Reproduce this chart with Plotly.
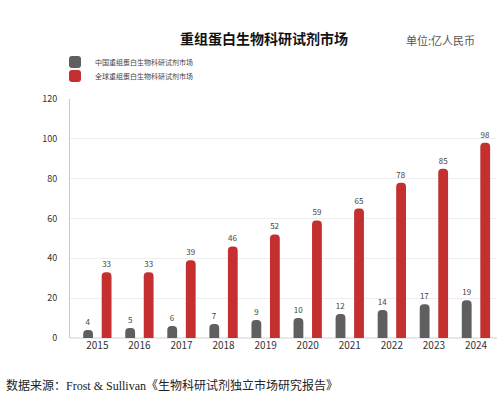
import plotly.graph_objects as go

years = ["2015", "2016", "2017", "2018", "2019", "2020", "2021", "2022", "2023", "2024"]
china = [4, 5, 6, 7, 9, 10, 12, 14, 17, 19]
world = [33, 33, 39, 46, 52, 59, 65, 78, 85, 98]
name_china = "中国重组蛋白生物科研试剂市场"
name_world = "全球重组蛋白生物科研试剂市场"

FONT = "Noto Sans CJK SC, Noto Sans, sans-serif"

W, H = 504, 402
l, r, t, b = 70, 7, 99, 64
pw, ph = W - l - r, H - t - b


def px2paper(px, py):
    return (px - l) / pw, (H - b - py) / ph


fig = go.Figure()
fig.add_trace(go.Bar(x=years, y=china, name=name_china, legend="legend",
                     marker=dict(color="#5f5f5f", line=dict(width=0)),
                     text=china, textposition="outside", cliponaxis=False,
                     textfont=dict(size=8, color="#444444", family=FONT)))
fig.add_trace(go.Bar(x=years, y=world, name=name_world, legend="legend2",
                     marker=dict(color="#c3302f", line=dict(width=0)),
                     text=world, textposition="outside", cliponaxis=False,
                     textfont=dict(size=8, color="#444444", family=FONT)))

lx1, ly1 = px2paper(55, 62)
lx2, ly2 = px2paper(55, 76)
legend_common = dict(xref="paper", yref="paper", xanchor="left", yanchor="middle",
                     font=dict(size=7, color="#444444", family=FONT), itemwidth=30,
                     bgcolor="rgba(0,0,0,0)", borderwidth=0)

fig.update_layout(
    width=W, height=H,
    margin=dict(l=l, r=r, t=t, b=b),
    paper_bgcolor="white", plot_bgcolor="white",
    barmode="group", bargap=0.12, bargroupgap=0.47,
    barcornerradius=5,
    font=dict(family=FONT, color="#333333"),
    showlegend=True,
    legend=dict(x=lx1, y=ly1, **legend_common),
    legend2=dict(x=lx2, y=ly2, **legend_common),
    xaxis=dict(type="category", range=[-0.65, 9.5], showgrid=False, showline=False, ticks="",
               tickfont=dict(size=10, color="#333333"), zeroline=False),
    yaxis=dict(range=[0, 120], dtick=20, showgrid=True, gridcolor="#eeeeee", gridwidth=1,
               showline=True, linecolor="#c8c8c8", linewidth=1, ticks="", ticklabelstandoff=10,
               tickfont=dict(size=9, color="#333333"), zeroline=True, zerolinecolor="#e8e8e8"),
)

anns = [
    dict(text="<b>重组蛋白生物科研试剂市场</b>", px=264, py=38, xanchor="center",
         font=dict(size=14, color="#111111", family=FONT)),
    dict(text="单位:亿人民币", px=440, py=40, xanchor="center",
         font=dict(size=11, color="#555555", family=FONT)),
    dict(text="数据来源：Frost &amp; Sullivan《生物科研试剂独立市场研究报告》", px=4, py=385, xanchor="left",
         font=dict(size=12, color="#222222", family="Liberation Serif, Noto Sans CJK SC, serif")),
]
for a in anns:
    x, y = px2paper(a.pop("px"), a.pop("py"))
    fig.add_annotation(x=x, y=y, xref="paper", yref="paper", yanchor="middle", showarrow=False, **a)

fig.write_html("out.html")
